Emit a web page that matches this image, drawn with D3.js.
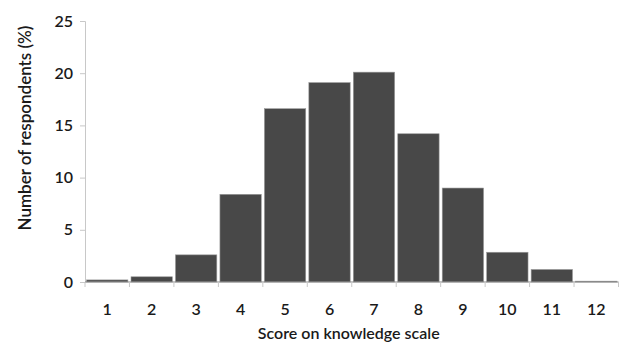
<!DOCTYPE html>
<html><head><meta charset="utf-8">
<script src="https://cdn.jsdelivr.net/npm/d3@7"></script>
<style>body{margin:0;background:#fff}svg{display:block}text{font-family:Lato,"Open Sans",sans-serif;fill:#1a1a1a;font-weight:600}</style>
</head><body><svg id="c" width="620" height="344"></svg>
<script>
const categories = ["1","2","3","4","5","6","7","8","9","10","11","12"];
const values = [0.2, 0.5, 2.6, 8.4, 16.6, 19.1, 20.1, 14.2, 9.0, 2.85, 1.2, 0.08];
const yTicks = [0,5,10,15,20,25];
const xTitle = "Score on knowledge scale";
const yTitle = "Number of respondents (%)";

const svg = d3.select("#c");
const mLeft = 85, mRight = 618.5, mTop = 21, mBottom = 282;
const x = d3.scaleBand().domain(categories).range([mLeft, mRight]).paddingInner(0.07).paddingOuter(0.035);
const y = d3.scaleLinear().domain([0,25]).range([mBottom, mTop]);

// y axis
const ya = svg.append("g").attr("transform",`translate(${mLeft},0)`)
  .call(d3.axisLeft(y).tickValues(yTicks).tickSize(5).tickPadding(7));
ya.select(".domain").attr("stroke","#c8c8c8");
ya.selectAll(".tick line").attr("stroke","#c8c8c8");
ya.selectAll(".tick text").style("font-size","16px").style("font-family","Lato,'Open Sans',sans-serif").attr("fill","#1a1a1a");

// bars
svg.append("g").selectAll("rect").data(values).join("rect")
  .attr("x",(d,i)=>x(categories[i]))
  .attr("width",x.bandwidth())
  .attr("y",d=>y(d))
  .attr("height",d=>Math.max(0.8,mBottom-y(d)))
  .attr("fill","#484848")
  .attr("stroke","#9a9a9a").attr("stroke-width",0.6);

// x axis line and boundary ticks
const xg = svg.append("g");
const bounds = d3.range(categories.length+1).map(i=>mLeft + i*(mRight-mLeft)/categories.length);
xg.append("line").attr("x1",mLeft).attr("x2",mRight).attr("y1",mBottom).attr("y2",mBottom).attr("stroke","#888").attr("stroke-width",1.2);
xg.selectAll("line.t").data(bounds).join("line").attr("class","t")
  .attr("x1",d=>d).attr("x2",d=>d).attr("y1",mBottom).attr("y2",mBottom+5).attr("stroke","#c8c8c8");
xg.selectAll("text").data(categories).join("text")
  .attr("x",d=>x(d)+x.bandwidth()/2).attr("y",315)
  .attr("text-anchor","middle").style("font-size","16px").text(d=>d);

svg.append("text").attr("x",(mLeft+mRight)/2 - 3).attr("y",339).attr("text-anchor","middle")
  .style("font-size","16px").text(xTitle);
svg.append("text").attr("transform","translate(31,128) rotate(-90)").attr("text-anchor","middle")
  .style("font-size","17px").text(yTitle);
</script></body></html>
